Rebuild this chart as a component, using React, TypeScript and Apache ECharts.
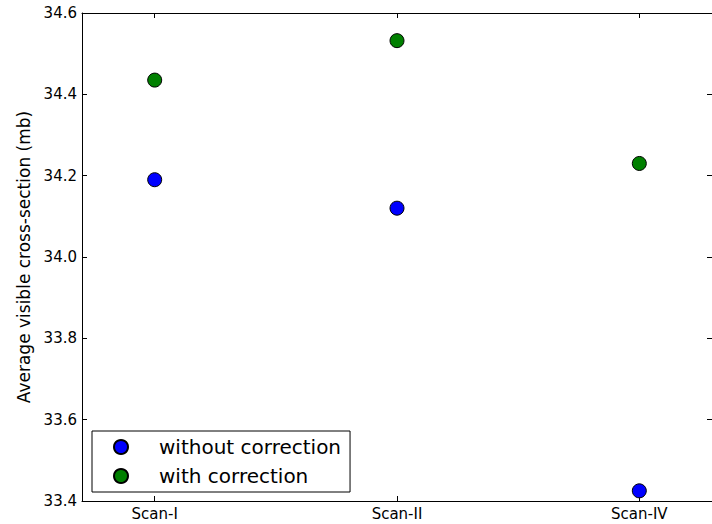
import React, { useEffect, useRef } from "react";
import * as echarts from "echarts";

const categories = ["Scan-I", "Scan-II", "Scan-IV"];
const withoutCorrection = [34.19, 34.12, 33.425];
const withCorrection = [34.435, 34.532, 34.23];
const yTicks = [33.4, 33.6, 33.8, 34.0, 34.2, 34.4, 34.6];

const FONT = "DejaVu Sans";

export default function App() {
  const ref = useRef<HTMLDivElement>(null);
  useEffect(() => {
    if (!ref.current) return;
    const chart = echarts.init(ref.current, undefined, { renderer: "svg" });
    const idx = categories.map((_, i) => i);
    const xCommon = {
      type: "value" as const,
      min: -0.3,
      max: 2.3,
      splitLine: { show: false },
      axisLine: { show: true, onZero: false, lineStyle: { color: "#000", width: 1 } },
      axisTick: { show: true, inside: true, length: 5, customValues: idx, lineStyle: { color: "#000" } },
    };
    const yCommon = {
      type: "value" as const,
      min: yTicks[0],
      max: yTicks[yTicks.length - 1],
      interval: 0.2,
      splitLine: { show: false },
      axisLine: { show: true, onZero: false, lineStyle: { color: "#000", width: 1 } },
      axisTick: { show: true, inside: true, length: 5, lineStyle: { color: "#000" } },
    };
    const sym = (color: string) => ({
      color,
      opacity: 1,
      borderColor: "#000",
      borderWidth: 1,
    });
    chart.setOption({
      animation: false,
      textStyle: { fontFamily: FONT },
      grid: { left: 82, top: 13, width: 634, height: 488 },
      xAxis: [
        {
          ...xCommon,
          position: "bottom",
          axisLabel: {
            show: true,
            customValues: idx,
            formatter: (v: number) => categories[Math.round(v)] ?? "",
            color: "#000",
            fontSize: 15,
            fontFamily: FONT,
            margin: 5,
          },
        },
        { ...xCommon, position: "top", axisLabel: { show: false } },
      ],
      yAxis: [
        {
          ...yCommon,
          position: "left",
          name: "Average visible cross-section (mb)",
          nameLocation: "middle",
          nameGap: 50,
          nameRotate: 90,
          nameTextStyle: { color: "#000", fontSize: 17, fontFamily: FONT },
          axisLabel: {
            show: true,
            formatter: (v: number) => v.toFixed(1),
            color: "#000",
            fontSize: 15,
            fontFamily: FONT,
            margin: 5,
          },
        },
        { ...yCommon, position: "right", axisLabel: { show: false } },
      ],
      legend: {
        show: true,
        orient: "vertical",
        left: 92,
        top: 431,
        backgroundColor: "#fff",
        borderColor: "#000",
        borderWidth: 1,
        borderRadius: 0,
        padding: [5, 9, 5, 21],
        itemGap: 7,
        itemWidth: 14,
        itemHeight: 14,
        icon: "circle",
        textStyle: { fontSize: 20, color: "#000", fontFamily: FONT, padding: [0, 0, 0, 26], lineHeight: 22 },
        data: ["without correction", "with correction"],
      },
      series: [
        {
          name: "without correction",
          type: "scatter",
          symbol: "circle",
          symbolSize: 14,
          itemStyle: sym("#0000ff"),
          data: withoutCorrection.map((v, i) => [i, v]),
          z: 3,
        },
        {
          name: "with correction",
          type: "scatter",
          symbol: "circle",
          symbolSize: 14,
          itemStyle: sym("#008000"),
          data: withCorrection.map((v, i) => [i, v]),
          z: 3,
        },
      ],
    });
    return () => chart.dispose();
  }, []);
  return (
    <div
      ref={ref}
      style={{ position: "fixed", left: 0, top: 0, width: 712, height: 524, background: "#fff" }}
    />
  );
}
